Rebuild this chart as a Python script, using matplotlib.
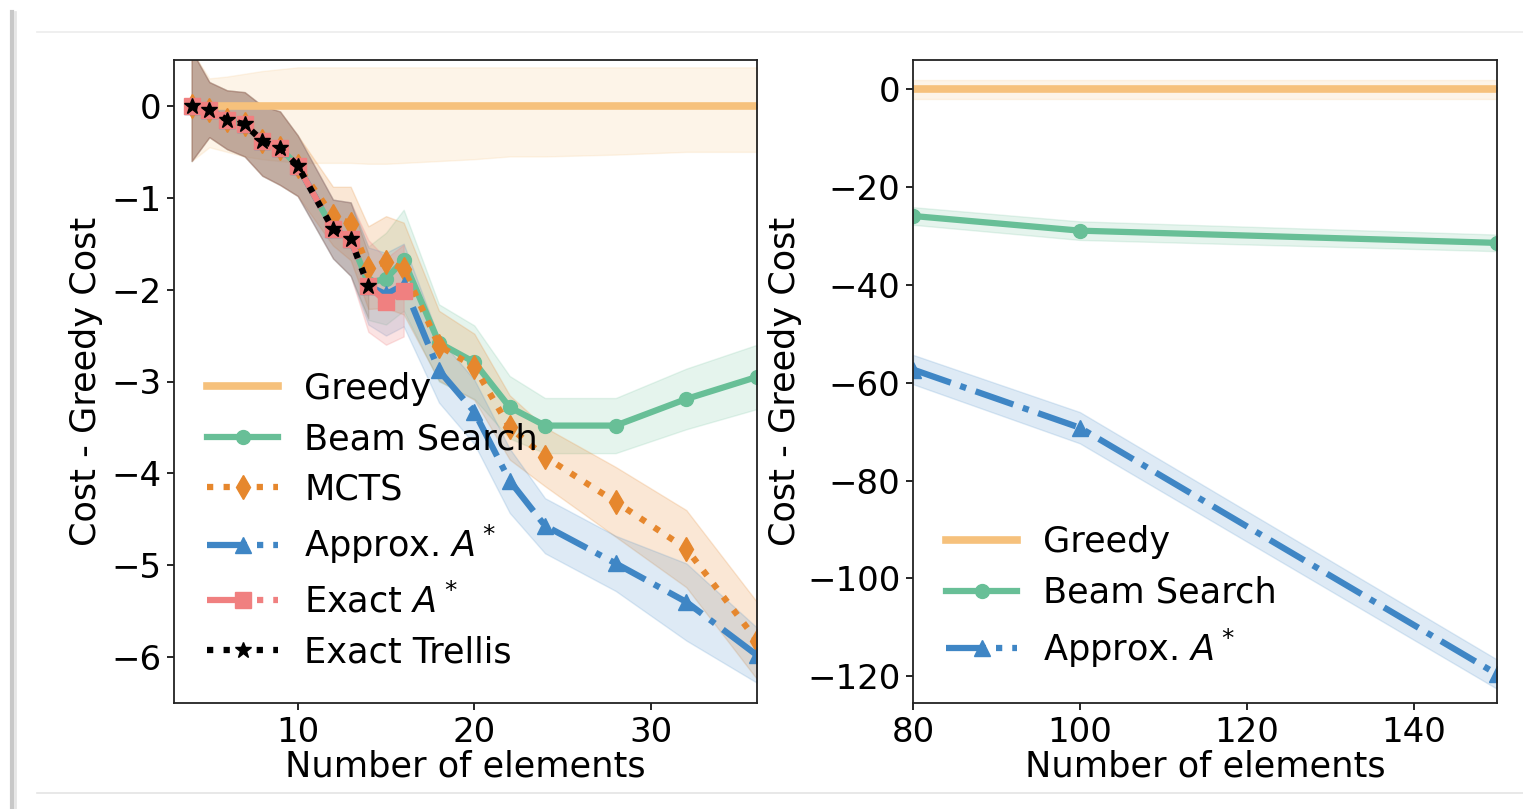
import matplotlib
matplotlib.use("Agg")
import matplotlib.pyplot as plt
from matplotlib.lines import Line2D
import numpy as np

# ---------------- data: left panel ----------------
x_left = [4, 5, 6, 7, 8, 9, 10, 12, 13, 14, 15, 16, 18, 20, 22, 24, 28, 32, 36]
greedy_left = [0] * 19
greedy_left_lo = [-0.6, -0.45, -0.5, -0.55, -0.58, -0.6, -0.62, -0.62, -0.62, -0.63, -0.63, -0.62, -0.6, -0.58, -0.55, -0.55, -0.53, -0.5, -0.5]
greedy_left_hi = [0.6, 0.3, 0.32, 0.35, 0.38, 0.4, 0.42, 0.42, 0.42, 0.42, 0.42, 0.42, 0.42, 0.42, 0.42, 0.42, 0.42, 0.42, 0.42]

beam_left = [0, -0.04, -0.15, -0.2, -0.38, -0.46, -0.65, -1.34, -1.45, -1.93, -1.88, -1.68, -2.58, -2.79, -3.28, -3.48, -3.48, -3.19, -2.95]
beam_left_sd = [0.6, 0.3, 0.32, 0.35, 0.38, 0.4, 0.33, 0.32, 0.4, 0.4, 0.5, 0.55, 0.42, 0.4, 0.34, 0.3, 0.3, 0.33, 0.35]

mcts_left = [0, -0.04, -0.15, -0.2, -0.38, -0.46, -0.65, -1.2, -1.28, -1.76, -1.70, -1.77, -2.61, -2.84, -3.5, -3.82, -4.31, -4.82, -5.82]
mcts_left_sd = [0.6, 0.3, 0.32, 0.35, 0.38, 0.4, 0.33, 0.32, 0.4, 0.45, 0.5, 0.5, 0.38, 0.36, 0.35, 0.32, 0.38, 0.42, 0.42]

astar_x = [4, 5, 6, 7, 8, 9, 10, 12, 13, 14, 15, 16, 18, 20, 22, 24, 28, 32, 36]
astar_left = [0, -0.04, -0.15, -0.2, -0.38, -0.46, -0.65, -1.34, -1.45, -1.96, -2.05, -1.95, -2.88, -3.33, -4.08, -4.57, -4.98, -5.40, -5.98]
astar_left_sd = [0.6, 0.3, 0.32, 0.35, 0.38, 0.4, 0.33, 0.32, 0.4, 0.42, 0.45, 0.45, 0.35, 0.35, 0.35, 0.3, 0.3, 0.42, 0.3]

exact_x = [4, 5, 6, 7, 8, 9, 10, 12, 13, 14, 15, 16]
exact_left = [0, -0.04, -0.15, -0.2, -0.38, -0.46, -0.65, -1.34, -1.45, -1.96, -2.13, -2.01]
exact_left_sd = [0.6, 0.3, 0.32, 0.35, 0.38, 0.4, 0.33, 0.32, 0.4, 0.5, 0.47, 0.5]

trellis_x = [4, 5, 6, 7, 8, 9, 10, 12, 13, 14]
trellis_left = [0, -0.04, -0.15, -0.2, -0.38, -0.46, -0.65, -1.34, -1.45, -1.96]
trellis_left_sd = [0.6, 0.3, 0.32, 0.35, 0.38, 0.4, 0.33, 0.32, 0.4, 0.35]

# ---------------- data: right panel ----------------
x_right = [80, 100, 150]
greedy_right = [0, 0, 0]
greedy_right_sd = [2.0, 2.0, 2.0]
beam_right = [-25.9, -28.9, -31.4]
beam_right_sd = [1.8, 1.9, 1.7]
astar_right = [-57.3, -69.2, -119.6]
astar_right_sd = [3.0, 3.2, 3.0]

labels = ["Greedy", "Beam Search", "MCTS", r"Approx. $A^*$", r"Exact $A^*$", "Exact Trellis"]
colors = ["#f6c17c", "#68bf97", "#e6872d", "#3f86c5", "#f08080", "#000000"]

FS = 25.3
plt.rcParams['font.family'] = ['DejaVu Sans']
plt.rcParams['font.size'] = FS

W, H = 1523, 809
fig = plt.figure(figsize=(W / 100, H / 100), dpi=100)
fig.patch.set_facecolor('white')

axL = fig.add_axes([174 / W, 1 - 703 / H, (757 - 174) / W, (703 - 60) / H])
axR = fig.add_axes([913 / W, 1 - 703 / H, (1497 - 913) / W, (703 - 60) / H])

FA = 0.17


def band(ax, x, y, sd, c, a=FA):
    y = np.asarray(y, float)
    sd = np.asarray(sd, float)
    ax.fill_between(x, y - sd, y + sd, color=c, alpha=a, lw=1)


# left panel
axL.fill_between(x_left, greedy_left_lo, greedy_left_hi, color=colors[0], alpha=FA, lw=1)
band(axL, x_left, beam_left, beam_left_sd, colors[1])
band(axL, x_left, mcts_left, mcts_left_sd, colors[2], a=0.2)
band(axL, astar_x, astar_left, astar_left_sd, colors[3])
band(axL, exact_x, exact_left, exact_left_sd, colors[4], a=0.22)
band(axL, trellis_x, trellis_left, trellis_left_sd, "#5a3a1a", a=0.12)

axL.plot(x_left, greedy_left, color=colors[0], lw=5.5, marker='.', ms=5, label=labels[0])
axL.plot(x_left, beam_left, color=colors[1], lw=4.5, marker='o', ms=10, label=labels[1])
axL.plot(x_left, mcts_left, color=colors[2], lw=4.5, ls=':', marker='d', ms=12, label=labels[2])
axL.plot(astar_x, astar_left, color=colors[3], lw=4.5, ls='-.', marker='^', ms=11, label=labels[3])
axL.plot(exact_x, exact_left, color=colors[4], lw=4.5, ls='-.', marker='s', ms=11, label=labels[4])
axL.plot(trellis_x, trellis_left, color=colors[5], lw=4.5, ls=':', marker='*', ms=12, label=labels[5])

axL.set_xlim(3, 36)
axL.set_ylim(-6.5, 0.5)
axL.set_xticks([10, 20, 30])
axL.set_yticks([0, -1, -2, -3, -4, -5, -6])
axL.set_xlabel("Number of elements", labelpad=1)
axL.set_ylabel("Cost - Greedy Cost", labelpad=6)

leg_kw = dict(loc='lower left', frameon=False, numpoints=1, handlelength=2.0,
              handletextpad=0.75, labelspacing=0.47, borderaxespad=0.55, fontsize=FS)
axL.legend(**leg_kw)

# right panel
band(axR, x_right, greedy_right, greedy_right_sd, colors[0])
band(axR, x_right, beam_right, beam_right_sd, colors[1])
band(axR, x_right, astar_right, astar_right_sd, colors[3])
axR.plot(x_right, greedy_right, color=colors[0], lw=5.5, marker='.', ms=5, label=labels[0])
axR.plot(x_right, beam_right, color=colors[1], lw=4.5, marker='o', ms=10, label=labels[1])
axR.plot(x_right, astar_right, color=colors[3], lw=4.5, ls='-.', marker='^', ms=11, label=labels[3])

axR.set_xlim(80, 150)
axR.set_ylim(-125.5, 6)
axR.set_xticks([80, 100, 120, 140])
axR.set_yticks([0, -20, -40, -60, -80, -100, -120])
axR.set_xlabel("Number of elements", labelpad=1)
axR.set_ylabel("Cost - Greedy Cost", labelpad=4)
axR.legend(**leg_kw)

for ax in (axL, axR):
    ax.tick_params(direction='out', length=5, width=1.2, labelsize=24.5, pad=4)
    for s in ax.spines.values():
        s.set_linewidth(1.3)
        s.set_color('#222222')

# screenshot frame decoration
fig.add_artist(Line2D([37 / W, 1], [1 - 32 / H] * 2, color='#ececec', lw=1.2))
fig.add_artist(Line2D([37 / W, 1], [1 - 793 / H] * 2, color='#e4e4e4', lw=1.2))
fig.add_artist(Line2D([12 / W, 12 / W], [0, 1 - 12 / H], color='#c8c8c8', lw=3))
fig.add_artist(Line2D([15 / W, 15 / W], [0, 1 - 12 / H], color='#e6e6e6', lw=2))

fig.savefig("out.png", dpi=100, facecolor='white')
